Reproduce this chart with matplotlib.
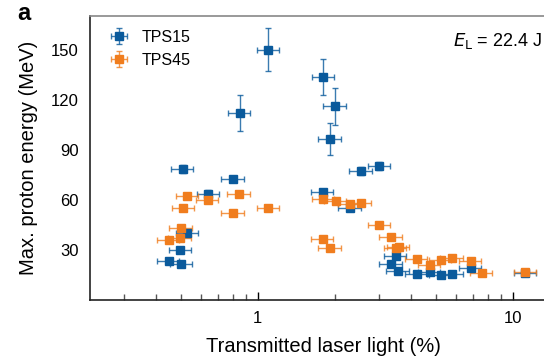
import numpy as np
import matplotlib
matplotlib.use("Agg")
import matplotlib.pyplot as plt
from matplotlib.ticker import LogLocator, NullFormatter, FixedLocator

plt.rcParams['font.family'] = ['Liberation Sans', 'DejaVu Sans']

# TPS15 (blue)
tps15_x = [0.509, 0.53, 0.497, 0.448, 0.502, 0.64, 0.80, 0.85, 1.10, 1.80,
           1.81, 2.01, 1.92, 2.30, 2.54, 3.0, 3.48, 3.33, 3.55, 4.19,
           4.73, 5.22, 5.78, 6.83, 11.2]
tps15_y = [78.4, 40, 30, 23.6, 21.4, 63.6, 72.4, 112, 150, 64.4,
           133.6, 116, 96.6, 55.2, 77.3, 80.4, 26.4, 21.6, 17.6, 15.6,
           17, 15, 15.6, 19.4, 16]
tps15_yerr = [2.5, 2, 1.5, 1.5, 1.5, 2, 2, 10.5, 13, 2,
              11, 11, 9.5, 1.5, 2.5, 2.5, 1.5, 1.5, 1.5, 1.5,
              1.5, 1.5, 1.5, 1.5, 1.5]

# TPS45 (orange)
tps45_x = [0.53, 0.637, 0.845, 0.511, 1.10, 0.80, 0.50, 0.448, 0.496, 1.81,
           2.02, 2.30, 2.53, 3.0, 3.33, 1.80, 1.92, 3.48, 3.57, 4.19,
           4.73, 5.22, 5.78, 6.83, 7.54, 11.2]
tps45_y = [62.4, 60, 63.4, 55, 55, 52, 43.2, 36, 37.2, 60.6,
           59.2, 57.4, 58, 45, 38, 36.6, 31, 31, 31.5, 24.6,
           21, 24, 25.2, 23.4, 16, 16.8]
tps45_yerr = [1.5] * len(tps45_y)

XERR_REL = 0.1  # relative uncertainty on transmitted light

BLUE = '#0a5a9c'
ORANGE = '#f07d1e'

fig = plt.figure(figsize=(5.44, 3.58), dpi=100)
ax = fig.add_axes([0.1654, 0.162, 0.86, 0.793])

for x, y, yerr, c, lab in [(tps15_x, tps15_y, tps15_yerr, BLUE, 'TPS15'),
                           (tps45_x, tps45_y, tps45_yerr, ORANGE, 'TPS45')]:
    x = np.array(x)
    eb = ax.errorbar(x, y, xerr=XERR_REL * x, yerr=yerr, fmt='s', color=c,
                     ms=5.5, ecolor=c, elinewidth=1.0, capsize=2.5, capthick=1.0,
                     label=lab)
    for part in eb[1] + eb[2]:
        part.set_alpha(0.8)

ax.set_xscale('log')
ax.set_xlim(0.22, 15)
ax.set_ylim(0, 170)
ax.yaxis.set_major_locator(FixedLocator([30, 60, 90, 120, 150]))
ax.xaxis.set_major_locator(FixedLocator([1, 10]))
ax.xaxis.set_major_formatter(plt.FuncFormatter(lambda v, p: f'{v:g}'))
ax.xaxis.set_minor_locator(LogLocator(base=10, subs=np.arange(2, 10)))
ax.xaxis.set_minor_formatter(NullFormatter())
ax.tick_params(axis='x', which='major', direction='in', length=6, width=1, labelsize=12, pad=8)
ax.tick_params(axis='x', which='minor', direction='in', length=4, width=1, color='#555555')
ax.tick_params(axis='y', length=0, labelsize=12, pad=8)

for s in ['left', 'bottom']:
    ax.spines[s].set_color('#222222')
    ax.spines[s].set_linewidth(1.2)
ax.spines['top'].set_color('#888888')
ax.spines['top'].set_linewidth(1.2)

ax.set_xlabel('Transmitted laser light (%)', fontsize=14.5, labelpad=8)
ax.set_ylabel('Max. proton energy (MeV)', fontsize=14.5, labelpad=9)

ax.legend(loc='upper left', frameon=False, fontsize=11.5, handlelength=1.7,
          handletextpad=0.55, borderaxespad=0.0, labelspacing=0.5,
          bbox_to_anchor=(0.02, 0.975))

fig.text(453 / 544, 1 - 41 / 358, r'$E_{\mathrm{L}}$ = 22.4 J', fontsize=13,
         va='center', ha='left')
fig.text(17 / 544, 1 - 13 / 358, 'a', fontsize=17, fontweight='bold',
         va='center', ha='left')

fig.savefig('out.png', dpi=100)
